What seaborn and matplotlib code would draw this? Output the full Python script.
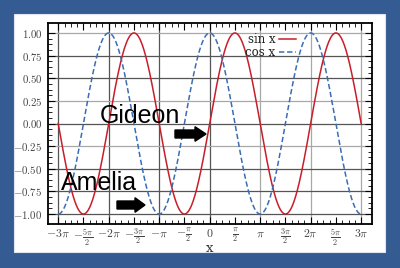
import numpy as np
import pandas as pd
import matplotlib
matplotlib.use("Agg")
import matplotlib.pyplot as plt
import matplotlib.patches as mpatches
import seaborn as sns

# ---- data ----
series_names = ["sin x", "cos x"]
x_ticks_in_pi = [-3, -2.5, -2, -1.5, -1, -0.5, 0, 0.5, 1, 1.5, 2, 2.5, 3]
x_tick_labels = [r"$-3\pi$", r"$-\frac{5\pi}{2}$", r"$-2\pi$", r"$-\frac{3\pi}{2}$",
                 r"$-\pi$", r"$-\frac{\pi}{2}$", r"$0$", r"$\frac{\pi}{2}$", r"$\pi$",
                 r"$\frac{3\pi}{2}$", r"$2\pi$", r"$\frac{5\pi}{2}$", r"$3\pi$"]
y_ticks = [-1.0, -0.75, -0.5, -0.25, 0.0, 0.25, 0.5, 0.75, 1.0]
y_tick_labels = [r"$\mathit{-1.00}$", r"$\mathit{-0.75}$", r"$\mathit{-0.50}$", r"$\mathit{-0.25}$",
                 r"$\mathit{0.00}$", r"$\mathit{0.25}$", r"$\mathit{0.50}$", r"$\mathit{0.75}$",
                 r"$\mathit{1.00}$"]
x_grid_in_pi = [-3, -2, -1, 0, 1, 2, 3]
x_grid_dark = [True, True, True, True, False, False, False]
y_grid_dark = [True, True, True, False, True, False, True, True, False]
annotations = ["Gideon", "Amelia"]

x = np.linspace(-3 * np.pi, 3 * np.pi, 800)
df = pd.DataFrame({
    "x": np.concatenate([x, x]),
    "y": np.concatenate([np.sin(x), np.cos(x)]),
    "series": [series_names[0]] * len(x) + [series_names[1]] * len(x),
})

plt.rcParams["mathtext.fontset"] = "cm"

W, H = 400, 268
fig = plt.figure(figsize=(W / 100, H / 100), dpi=100)
fig.patch.set_facecolor("#345b92")

# white panel
fig.patches.append(mpatches.Rectangle((14 / 100, (H - 252) / 100), (385 - 14) / 100, (252 - 14) / 100,
                                      transform=fig.dpi_scale_trans, facecolor="white",
                                      edgecolor="#dfe6f0", linewidth=0.8, zorder=-5))

ax = fig.add_axes([48 / W, 1 - 224 / H, (372 - 48) / W, (224 - 23) / H])
ax.set_zorder(1)
ax.set_facecolor("white")

# grid lines
for v, dark in zip(x_grid_in_pi, x_grid_dark):
    ax.axvline(v * np.pi, color="#555555" if dark else "#a8a8a8", lw=0.9, zorder=1)
for v, dark in zip(y_ticks, y_grid_dark):
    ax.axhline(v, color="#555555" if dark else "#a8a8a8", lw=0.9, zorder=1)

sns.lineplot(data=df, x="x", y="y", hue="series", style="series",
             palette={"sin x": "#c81e2a", "cos x": "#3a6db5"},
             dashes={"sin x": "", "cos x": (3.5, 1.8)},
             sort=False, linewidth=1.1, ax=ax, zorder=3)

ax.set_xlim(-10.06, 10.1)
ax.set_ylim(-1.11, 1.11)

ax.set_xticks([v * np.pi for v in x_ticks_in_pi])
ax.set_xticklabels(x_tick_labels)
ax.set_xticks(np.arange(-3, 3.01, 0.125) * np.pi, minor=True)
ax.set_yticks(y_ticks)
ax.set_yticklabels(y_tick_labels)
ax.set_yticks(np.arange(-1.0, 1.001, 0.0625), minor=True)

ax.tick_params(which="both", direction="in", top=True, right=True, color="black")
ax.tick_params(which="major", length=5, width=0.8, labelcolor="#444444")
ax.tick_params(axis="y", which="major", labelsize=7.8, pad=4)
ax.tick_params(axis="x", which="major", labelsize=8.5, pad=2)
ax.tick_params(which="minor", length=3, width=0.6)

for s in ax.spines.values():
    s.set_color("black")
    s.set_linewidth(1.3)

ax.set_xlabel("x", fontfamily="DejaVu Serif", fontsize=9.5, color="#333333")
ax.xaxis.set_label_coords(0.5, -0.122)
ax.xaxis.label.set_verticalalignment("center")
ax.set_ylabel("")

handles, labels = ax.get_legend_handles_labels()
leg = ax.legend(handles, labels, loc="upper right", bbox_to_anchor=(0.765, 0.95),
                frameon=False, markerfirst=False, handlelength=1.45, handletextpad=0.3,
                borderpad=0, borderaxespad=0, labelspacing=0.0,
                prop={"family": "DejaVu Serif", "size": 8.5})
for t in leg.get_texts():
    t.set_color("#222222")

# annotations
fig.text(1.00, (H - 123) / 100, annotations[0], transform=fig.dpi_scale_trans,
         fontsize=18, family="Liberation Sans", color="black", va="baseline", zorder=10)
fig.text(0.61, (H - 190) / 100, annotations[1], transform=fig.dpi_scale_trans,
         fontsize=18, family="Liberation Sans", color="black", va="baseline", zorder=10)
fig.patches.append(mpatches.FancyArrow(1.75, (H - 134) / 100, 0.31, 0, width=0.08,
                                       head_width=0.145, head_length=0.11,
                                       length_includes_head=True, transform=fig.dpi_scale_trans,
                                       color="black", zorder=10))
fig.patches.append(mpatches.FancyArrow(1.17, (H - 205) / 100, 0.28, 0, width=0.08,
                                       head_width=0.145, head_length=0.10,
                                       length_includes_head=True, transform=fig.dpi_scale_trans,
                                       color="black", zorder=10))

fig.savefig("out.png", dpi=100, facecolor=fig.get_facecolor())
